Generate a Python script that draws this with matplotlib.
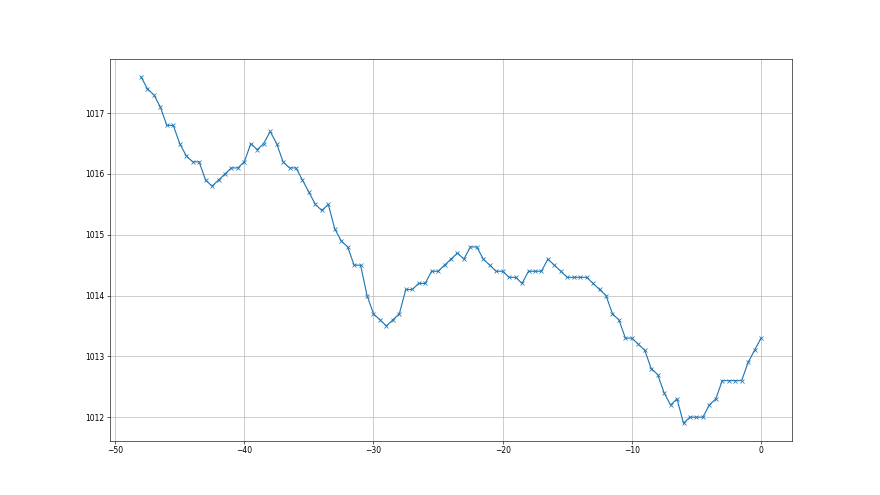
import numpy as np
import matplotlib
matplotlib.use("Agg")
import matplotlib.pyplot as plt

hours = np.arange(-48, 0.01, 0.5)
pressure = [
    1017.6, 1017.4, 1017.3, 1017.1, 1016.8, 1016.8, 1016.5, 1016.3, 1016.2, 1016.2,
    1015.9, 1015.8, 1015.9, 1016.0, 1016.1, 1016.1, 1016.2, 1016.5, 1016.4, 1016.5,
    1016.7, 1016.5, 1016.2, 1016.1, 1016.1, 1015.9, 1015.7, 1015.5, 1015.4, 1015.5,
    1015.1, 1014.9, 1014.8, 1014.5, 1014.5, 1014.0, 1013.7, 1013.6, 1013.5, 1013.6,
    1013.7, 1014.1, 1014.1, 1014.2, 1014.2, 1014.4, 1014.4, 1014.5, 1014.6, 1014.7,
    1014.6, 1014.8, 1014.8, 1014.6, 1014.5, 1014.4, 1014.4, 1014.3, 1014.3, 1014.2,
    1014.4, 1014.4, 1014.4, 1014.6, 1014.5, 1014.4, 1014.3, 1014.3, 1014.3, 1014.3,
    1014.2, 1014.1, 1014.0, 1013.7, 1013.6, 1013.3, 1013.3, 1013.2, 1013.1, 1012.8,
    1012.7, 1012.4, 1012.2, 1012.3, 1011.9, 1012.0, 1012.0, 1012.0, 1012.2, 1012.3,
    1012.6, 1012.6, 1012.6, 1012.6, 1012.9, 1013.1, 1013.3,
]
assert len(pressure) == len(hours), (len(pressure), len(hours))

fig, ax = plt.subplots(figsize=(16, 9), dpi=55)
ax.plot(hours, pressure, marker='x', color='#1f77b4')
ax.grid(True)
fig.savefig("out.png", dpi=55)
